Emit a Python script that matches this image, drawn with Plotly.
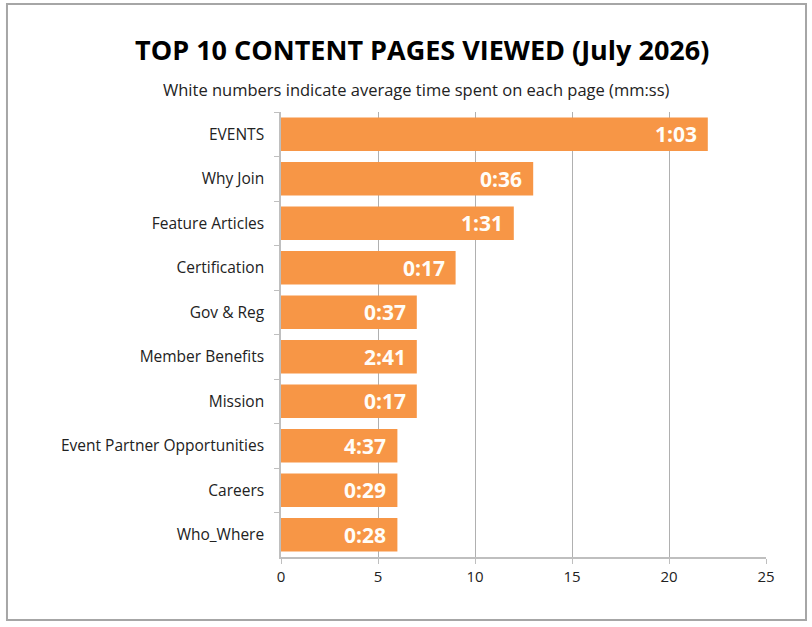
import plotly.graph_objects as go

pages = ["EVENTS", "Why Join", "Feature Articles", "Certification", "Gov & Reg",
         "Member Benefits", "Mission", "Event Partner Opportunities", "Careers", "Who_Where"]
views = [22, 13, 12, 9, 7, 7, 7, 6, 6, 6]
avg_time = ["1:03", "0:36", "1:31", "0:17", "0:37", "2:41", "0:17", "4:37", "0:29", "0:28"]
x_ticks = [0, 5, 10, 15, 20, 25]

fig = go.Figure()
fig.add_trace(go.Bar(
    x=views,
    y=pages,
    orientation="h",
    marker=dict(color="#F79646", line=dict(width=0)),
    hoverinfo="x+y",
))

# white time labels just inside the end of each bar
for page, v, t in zip(pages, views, avg_time):
    fig.add_annotation(x=v, y=page, text="<b>" + t + "</b>", showarrow=False,
                       xanchor="right", yanchor="middle", xshift=-9,
                       font=dict(color="#FFFDF8", size=21, family="Open Sans"))

fig.update_layout(
    width=812, height=627,
    margin=dict(l=281, r=46, t=112, b=70),
    paper_bgcolor="white",
    plot_bgcolor="white",
    showlegend=False,
    bargap=0.25,
    font=dict(family="Open Sans", size=15, color="#222"),
    title=dict(text="<b>TOP 10 CONTENT PAGES VIEWED (July 2026)</b>",
               x=0.52, xanchor="center", y=0.92, yanchor="middle",
               font=dict(size=27, color="black")),
    # chart frame
    shapes=[dict(type="rect", xref="paper", yref="paper", x0=-0.565, x1=1.0825, y0=-0.1416, y1=1.2427,
                 line=dict(color="#A6A6A6", width=2))],
)
fig.add_annotation(text="White numbers indicate average time spent on each page (mm:ss)",
                   xref="paper", yref="paper", x=0.279, y=1.0, yshift=23,
                   xanchor="center", yanchor="middle", showarrow=False,
                   font=dict(size=16.5, color="#222"))

fig.update_xaxes(range=[0, 25], tickvals=x_ticks, showgrid=True, gridcolor="#B0B0B0", gridwidth=1,
                 showline=True, linecolor="#BFBFBF", linewidth=1.5,
                 ticks="outside", ticklen=5, tickcolor="#BFBFBF",
                 zeroline=False, tickfont=dict(size=15))
fig.update_yaxes(autorange="reversed", showline=True, linecolor="#BFBFBF", linewidth=1.5,
                 ticks="outside", ticklen=5, tickcolor="#BFBFBF", tickson="boundaries",
                 ticklabelstandoff=12, tickfont=dict(size=15.5))

fig.write_html("out.html", config={"displayModeBar": False},
               post_script="document.body.style.margin='0';")
